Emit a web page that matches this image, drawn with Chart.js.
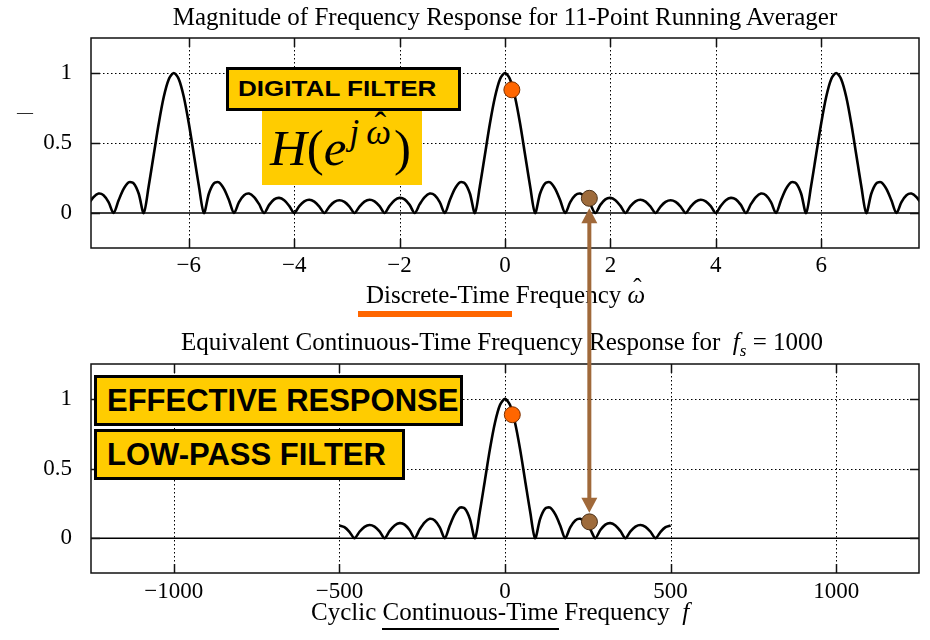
<!DOCTYPE html>
<html>
<head>
<meta charset="utf-8">
<script src="https://cdn.jsdelivr.net/npm/chart.js@4.4.1/dist/chart.umd.min.js"></script>
<style>
  body { margin: 0; background: #fff; }
  #wrap { position: relative; width: 930px; height: 640px; overflow: hidden;
          font-family: 'Liberation Serif', 'Times New Roman', serif; color: #000; }
  canvas { position: absolute; left: 0; }
  .lbl { position: absolute; font-size: 25px; line-height: 25px; white-space: nowrap; }
  .box { position: absolute; background: #FFCC00; box-sizing: border-box; white-space: nowrap;
         font-family: 'Liberation Sans', Arial, sans-serif; font-weight: bold; }
  .bordered { border: 3px solid #000; }
  .bar { position: absolute; }
  .hatw { position: relative; display: inline-block; font-style: italic; }
  .hatw .h { position: absolute; left: 0.08em; right: 0; text-align: center; top: -0.3em; font-style: normal; }
  .hatw .h2 { position: absolute; left: 0.1em; right: 0; text-align: center; top: -0.2em; font-style: normal; }
</style>
</head>
<body>
<div id="wrap">
  <canvas id="topChart" width="930" height="320" style="top:0"></canvas>
  <canvas id="bottomChart" width="930" height="320" style="top:320px"></canvas>

  <div class="lbl" style="left:91px; width:828px; top:4px; text-align:center;">Magnitude of Frequency Response for 11-Point Running Averager</div>
  <div class="lbl" style="left:366px; top:282px;">Discrete-Time Frequency <span class="hatw">&omega;<span class="h">&#710;</span></span></div>
  <div class="bar" style="left:358px; top:311px; width:154px; height:6px; background:#FF6600;"></div>
  <div class="lbl" style="left:181px; top:329px;">Equivalent Continuous-Time Frequency Response for&nbsp; <i>f</i><sub style="font-size:17px; line-height:0; font-style:italic;">s</sub> = 1000</div>
  <div class="lbl" style="left:311px; top:599px;">Cyclic Continuous-Time Frequency&nbsp; <i>f</i></div>
  <div class="bar" style="left:382px; top:628px; width:177px; height:2px; background:#000;"></div>
  <div class="lbl" style="left:17px; top:99px; font-size:16px;">&mdash;</div>

  <div class="box bordered" style="left:226px; top:67px; width:235px; height:44px; font-size:22px; line-height:38px; padding-left:9px;"><span style="display:inline-block; transform:scaleX(1.185); transform-origin:left;">DIGITAL FILTER</span></div>
  <div class="box" style="left:262px; top:111px; width:160px; height:74px; font-family:'Liberation Serif','Times New Roman',serif; font-weight:normal; font-size:51px; line-height:74px; padding-left:8px;"><i>H</i>(<i>e</i><sup style="font-size:35px; line-height:0; position:relative; top:-3px; margin-left:3px; margin-right:3px;"><i>j</i>&thinsp;<span class="hatw">&omega;<span class="h2">&#710;</span></span></sup>)</div>
  <div class="box bordered" style="left:94px; top:375px; width:369px; height:51px; font-size:31px; line-height:45px; padding-left:10px;">EFFECTIVE RESPONSE</div>
  <div class="box bordered" style="left:94px; top:429px; width:311px; height:51px; font-size:31px; line-height:45px; padding-left:10px;">LOW-PASS FILTER</div>

  <canvas id="overlay" width="930" height="640" style="top:0; z-index:5;"></canvas>
</div>

<script>
// Discrete-time frequency samples (rad) and |H|
const omegaTop = [-7.902,-7.806,-7.711,-7.616,-7.521,-7.426,-7.330,-7.235,-7.140,-7.045,-6.950,-6.854,-6.759,-6.664,-6.569,-6.474,-6.378,-6.283,-6.188,-6.093,-5.998,-5.902,-5.807,-5.712,-5.617,-5.522,-5.426,-5.331,-5.236,-5.141,-5.046,-4.950,-4.855,-4.760,-4.665,-4.570,-4.474,-4.379,-4.284,-4.189,-4.094,-3.998,-3.903,-3.808,-3.713,-3.618,-3.522,-3.427,-3.332,-3.237,-3.142,-3.046,-2.951,-2.856,-2.761,-2.666,-2.570,-2.475,-2.380,-2.285,-2.190,-2.094,-1.999,-1.904,-1.809,-1.714,-1.618,-1.523,-1.428,-1.333,-1.238,-1.142,-1.047,-0.952,-0.857,-0.762,-0.666,-0.571,-0.476,-0.381,-0.286,-0.190,-0.095,
  0,
  0.095,0.190,0.286,0.381,0.476,0.571,0.666,0.762,0.857,0.952,1.047,1.142,1.238,1.333,1.428,1.523,1.618,1.714,1.809,1.904,1.999,2.094,2.190,2.285,2.380,2.475,2.570,2.666,2.761,2.856,2.951,3.046,3.142,3.237,3.332,3.427,3.522,3.618,3.713,3.808,3.903,3.998,4.094,4.189,4.284,4.379,4.474,4.570,4.665,4.760,4.855,4.950,5.046,5.141,5.236,5.331,5.426,5.522,5.617,5.712,5.807,5.902,5.998,6.093,6.188,6.283,6.378,6.474,6.569,6.664,6.759,6.854,6.950,7.045,7.140,7.235,7.330,7.426,7.521,7.616,7.711,7.806,7.902];

const magTop = [0.063,0.114,0.139,0.127,0.078,0, 0.091,0.172,0.219,0.212,0.139,0, 0.193,0.416,0.639,0.828,0.955,1.000, 0.955,0.828,0.639,0.416,0.193,0, 0.139,0.212,0.219,0.172,0.091,0, 0.078,0.127,0.139,0.114,0.063,0, 0.058,0.097,0.108,0.091,0.051,0, 0.049,0.083,0.095,0.081,0.046,0, 0.046,0.079,0.091,0.079,0.046,0, 0.046,0.081,0.095,0.083,0.049,0, 0.051,0.091,0.108,0.097,0.058,0, 0.063,0.114,0.139,0.127,0.078,0, 0.091,0.172,0.219,0.212,0.139,0, 0.193,0.416,0.639,0.828,0.955,
  1.000,
  0.955,0.828,0.639,0.416,0.193,0, 0.139,0.212,0.219,0.172,0.091,0, 0.078,0.127,0.139,0.114,0.063,0, 0.058,0.097,0.108,0.091,0.051,0, 0.049,0.083,0.095,0.081,0.046,0, 0.046,0.079,0.091,0.079,0.046,0, 0.046,0.081,0.095,0.083,0.049,0, 0.051,0.091,0.108,0.097,0.058,0, 0.063,0.114,0.139,0.127,0.078,0, 0.091,0.172,0.219,0.212,0.139,0, 0.193,0.416,0.639,0.828,0.955,1.000, 0.955,0.828,0.639,0.416,0.193,0, 0.139,0.212,0.219,0.172,0.091,0, 0.078,0.127,0.139,0.114,0.063];

// Continuous-time frequency samples (Hz) and |H| for the bottom panel, fs = 1000
const freqBottom = [-500.0,-484.8,-469.7,-454.5,-439.4,-424.2,-409.1,-393.9,-378.8,-363.6,-348.5,-333.3,-318.2,-303.0,-287.9,-272.7,-257.6,-242.4,-227.3,-212.1,-197.0,-181.8,-166.7,-151.5,-136.4,-121.2,-106.1,-90.9,-75.8,-60.6,-45.5,-30.3,-15.2,
  0,
  15.2,30.3,45.5,60.6,75.8,90.9,106.1,121.2,136.4,151.5,166.7,181.8,197.0,212.1,227.3,242.4,257.6,272.7,287.9,303.0,318.2,333.3,348.5,363.6,378.8,393.9,409.1,424.2,439.4,454.5,469.7,484.8,500.0];

const magBottom = [0.091,0.079,0.046,0, 0.046,0.081,0.095,0.083,0.049,0, 0.051,0.091,0.108,0.097,0.058,0, 0.063,0.114,0.139,0.127,0.078,0, 0.091,0.172,0.219,0.212,0.139,0, 0.193,0.416,0.639,0.828,0.955,
  1.000,
  0.955,0.828,0.639,0.416,0.193,0, 0.139,0.212,0.219,0.172,0.091,0, 0.078,0.127,0.139,0.114,0.063,0, 0.058,0.097,0.108,0.091,0.051,0, 0.049,0.083,0.095,0.081,0.046,0, 0.046,0.079,0.091];

// Highlighted points: [pass-band point, stop-band point]
const markTopX = [0.13, 1.60];
const markTopY = [0.88, 0.105];
const markBotX = [22, 255];
const markBotY = [0.886, 0.117];

// Axis ranges and ticks
const topXRange = [-7.854, 7.854];
const topXTicks = [-6, -4, -2, 0, 2, 4, 6];
const botXRange = [-1250, 1250];
const botXTicks = [-1000, -500, 0, 500, 1000];
const yRange = [-0.25, 1.25];
const yTicks = [0, 0.5, 1];

const ORANGE = "#FF6600";
const BROWN = "#9E6B3B";
const SERIF = "'Liberation Serif', 'Times New Roman', serif";

// Frame, dotted grid, solid zero line and inward ticks like the original plot
const framePlugin = {
    id: "frame",
    beforeDatasetsDraw(chart) {
        const { ctx, chartArea: a, scales: { x, y } } = chart;
        ctx.save();
        ctx.strokeStyle = "#000";
        ctx.lineWidth = 1;
        ctx.setLineDash([1.5, 2.5]);
        x.ticks.forEach(t => {
            const px = Math.round(x.getPixelForValue(t.value)) + 0.5;
            ctx.beginPath(); ctx.moveTo(px, a.top); ctx.lineTo(px, a.bottom); ctx.stroke();
        });
        y.ticks.forEach(t => {
            if (t.value === 0) return;
            const py = Math.round(y.getPixelForValue(t.value)) + 0.5;
            ctx.beginPath(); ctx.moveTo(a.left, py); ctx.lineTo(a.right, py); ctx.stroke();
        });
        ctx.setLineDash([]);
        ctx.lineWidth = 1.5;
        const y0 = y.getPixelForValue(0);
        ctx.beginPath(); ctx.moveTo(a.left, y0); ctx.lineTo(a.right, y0); ctx.stroke();
        ctx.restore();
    },
    afterDatasetsDraw(chart) {
        const { ctx, chartArea: a, scales: { x, y } } = chart;
        const len = 9;
        ctx.save();
        ctx.strokeStyle = "#111";
        ctx.lineWidth = 1.5;
        x.ticks.forEach(t => {
            const px = Math.round(x.getPixelForValue(t.value)) + 0.5;
            ctx.beginPath();
            ctx.moveTo(px, a.top); ctx.lineTo(px, a.top + len);
            ctx.moveTo(px, a.bottom); ctx.lineTo(px, a.bottom - len);
            ctx.stroke();
        });
        y.ticks.forEach(t => {
            const py = Math.round(y.getPixelForValue(t.value)) + 0.5;
            ctx.beginPath();
            ctx.moveTo(a.left, py); ctx.lineTo(a.left + len, py);
            ctx.moveTo(a.right, py); ctx.lineTo(a.right - len, py);
            ctx.stroke();
        });
        ctx.strokeRect(a.left, a.top, a.right - a.left, a.bottom - a.top);
        ctx.restore();
    }
};

function tickText(v) {
    return v < 0 ? "\u2212" + Math.abs(v) : String(v);
}

function makeChart(canvasId, xs, ys, mx, my, xRange, xTicks, padTop, xAxisHeight, labelPad) {
    const ctx = document.getElementById(canvasId).getContext("2d");
    return new Chart(ctx, {
        type: "line",
        data: {
            datasets: [
                {
                    data: mx.map((v, i) => ({ x: v, y: my[i] })),
                    showLine: false,
                    pointRadius: 8,
                    pointBackgroundColor: [ORANGE, BROWN],
                    pointBorderColor: ["#7a3000", "#4a3018"],
                    pointBorderWidth: 1,
                    order: 0
                },
                {
                    data: xs.map((v, i) => ({ x: v, y: ys[i] })),
                    borderColor: "#000",
                    borderWidth: 2.6,
                    pointRadius: 0,
                    tension: 0.3,
                    fill: false,
                    order: 1
                }
            ]
        },
        options: {
            responsive: false,
            animation: false,
            devicePixelRatio: 1,
            layout: { padding: { top: padTop, right: 11, bottom: 0, left: 0 } },
            plugins: { legend: { display: false }, tooltip: { enabled: false } },
            scales: {
                x: {
                    type: "linear",
                    min: xRange[0],
                    max: xRange[1],
                    grid: { display: false, drawTicks: false },
                    border: { display: false },
                    afterBuildTicks: s => { s.ticks = xTicks.map(v => ({ value: v })); },
                    afterFit: s => { s.height = xAxisHeight; },
                    ticks: {
                        color: "#000",
                        padding: labelPad,
                        maxRotation: 0,
                        font: { family: SERIF, size: 23 },
                        callback: v => tickText(v)
                    }
                },
                y: {
                    min: yRange[0],
                    max: yRange[1],
                    grid: { display: false, drawTicks: false },
                    border: { display: false },
                    afterBuildTicks: s => { s.ticks = yTicks.map(v => ({ value: v })); },
                    afterFit: s => { s.width = 91; },
                    ticks: {
                        color: "#000",
                        padding: 19,
                        font: { family: SERIF, size: 23 },
                        callback: v => tickText(v)
                    }
                }
            }
        },
        plugins: [framePlugin]
    });
}

const topChart = makeChart("topChart", omegaTop, magTop, markTopX, markTopY, topXRange, topXTicks, 38, 72, 4);
const bottomChart = makeChart("bottomChart", freqBottom, magBottom, markBotX, markBotY, botXRange, botXTicks, 44, 67, 5);

// Brown double arrow linking the stop-band point in both panels
function drawArrow() {
    const ctx = document.getElementById("overlay").getContext("2d");
    const x = topChart.scales.x.getPixelForValue(markTopX[1]);
    const yTop = topChart.scales.y.getPixelForValue(markTopY[1]) + 10;
    const yBot = 320 + bottomChart.scales.y.getPixelForValue(markBotY[1]) - 9;
    const head = 15, half = 8;
    ctx.fillStyle = "#A0693A";
    ctx.strokeStyle = "#A0693A";
    ctx.lineWidth = 4;
    ctx.beginPath(); ctx.moveTo(x, yTop + head - 1); ctx.lineTo(x, yBot - head + 1); ctx.stroke();
    ctx.beginPath(); ctx.moveTo(x, yTop); ctx.lineTo(x - half, yTop + head); ctx.lineTo(x + half, yTop + head); ctx.closePath(); ctx.fill();
    ctx.beginPath(); ctx.moveTo(x, yBot); ctx.lineTo(x - half, yBot - head); ctx.lineTo(x + half, yBot - head); ctx.closePath(); ctx.fill();
}
drawArrow();
</script>
</body>
</html>
